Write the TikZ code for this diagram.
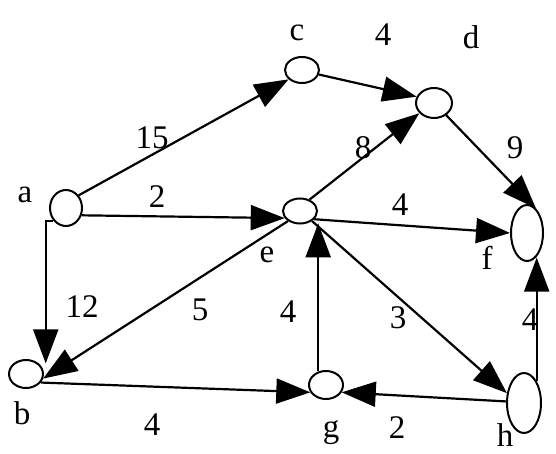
\documentclass[tikz,border=0pt]{standalone}
\usepackage{fontspec}
\setmainfont{Liberation Serif}
\usetikzlibrary{arrows.meta,shapes.geometric}
\begin{document}
\begin{tikzpicture}[x=1pt,y=-1pt,
  vtx/.style={draw,ellipse,line width=2pt,inner sep=0pt},
  lbl/.style={font=\fontsize{33}{33}\selectfont,inner sep=0pt},
  arr/.style={line width=2.2pt,-{Triangle[length=34pt 0 0,width=25pt 0 0]}}]
\useasboundingbox (0,0) rectangle (556,454);
% vertices
\node[vtx,minimum width=32pt,minimum height=36pt] (a) at (66,208) {};
\node[vtx,minimum width=34pt,minimum height=28pt] (b) at (26,374) {};
\node[vtx,minimum width=34pt,minimum height=26pt] (c) at (302,70) {};
\node[vtx,minimum width=36pt,minimum height=30pt] (d) at (434,103) {};
\node[vtx,minimum width=34pt,minimum height=25pt] (e) at (300,211) {};
\node[vtx,minimum width=32pt,minimum height=56pt] (f) at (527,233) {};
\node[vtx,minimum width=34pt,minimum height=28pt] (g) at (326,385) {};
\node[vtx,minimum width=34pt,minimum height=60pt] (h) at (524,403) {};
% vertex names
\node[lbl] (la) at (25,195) {a};
\node[lbl] (lb) at (22,413) {b};
\node[lbl] (lc) at (297,33) {c};
\node[lbl] (ld) at (471,37) {d};
\node[lbl] (le) at (267,255) {e};
\node[lbl] (lf) at (487,258) {f};
\node[lbl] (lg) at (331,433) {g};
\node[lbl] (lh) at (505,435) {h};
% edges
\draw[arr] (a.45) -- (c.215);
\draw[arr] (c.345) -- (d.160);
\draw[arr] (e.50) -- (d.215);
\draw[arr] (d.315) -- (f.70);
\draw[arr] (a.335) -- (e.205);
\draw[arr] (e.330) -- (f.180);
\draw[arr] (e.320) -- (h.150);
\draw[arr] (g.120) -- (g.120 |- e.300);
\draw[arr] (e.220) -- (b.345);
\draw[arr] (b.330) -- (g.205);
\draw[arr] (h.175) -- (g.335);
\draw[arr] (h.60) -- (h.60 |- f.290);
\draw[arr] (a.225) -| ([xshift=7pt]b.north east);
% weights
\node[lbl] (w15) at (152,138) {15};
\node[lbl] (wcd) at (383,35) {4};
\node[lbl] (wed) at (363,148) {8};
\node[lbl] (wdf) at (515,148) {9};
\node[lbl] (wae) at (157,197) {2};
\node[lbl] (wef) at (400,205) {4};
\node[lbl] (wab) at (82,307) {12};
\node[lbl] (web) at (200,310) {5};
\node[lbl] (wge) at (288,312) {4};
\node[lbl] (weh) at (398,318) {3};
\node[lbl] (whf) at (530,320) {4};
\node[lbl] (wbg) at (152,425) {4};
\node[lbl] (whg) at (397,428) {2};
\end{tikzpicture}
\end{document}
